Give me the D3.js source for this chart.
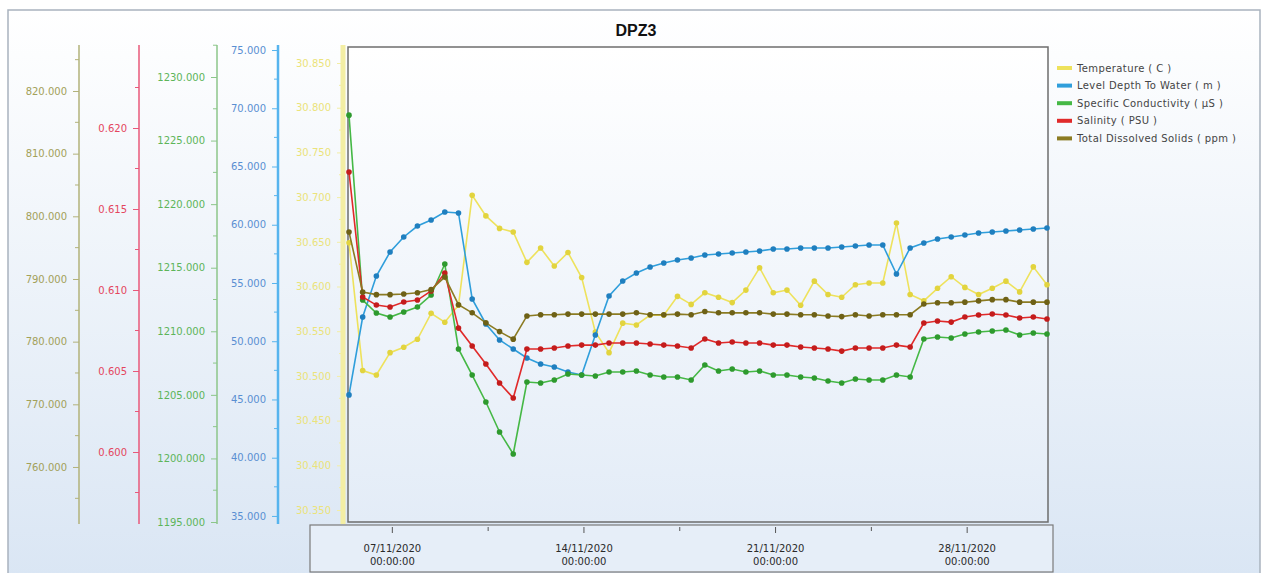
<!DOCTYPE html>
<html>
<head>
<meta charset="utf-8">
<script src="https://cdn.jsdelivr.net/npm/d3@7"></script>
<style>
  body { margin: 0; background: #fff; }
  svg { display: block; font-family: "DejaVu Sans", sans-serif; }
</style>
</head>
<body>
<svg id="chart" width="1267" height="573"></svg>
<script>
// readings every 12 hours
const times = ["2020-11-05T10:00","2020-11-05T22:00","2020-11-06T10:00","2020-11-06T22:00","2020-11-07T10:00","2020-11-07T22:00",
  "2020-11-08T10:00","2020-11-08T22:00","2020-11-09T10:00","2020-11-09T22:00","2020-11-10T10:00","2020-11-10T22:00",
  "2020-11-11T10:00","2020-11-11T22:00","2020-11-12T10:00","2020-11-12T22:00","2020-11-13T10:00","2020-11-13T22:00",
  "2020-11-14T10:00","2020-11-14T22:00","2020-11-15T10:00","2020-11-15T22:00","2020-11-16T10:00","2020-11-16T22:00",
  "2020-11-17T10:00","2020-11-17T22:00","2020-11-18T10:00","2020-11-18T22:00","2020-11-19T10:00","2020-11-19T22:00",
  "2020-11-20T10:00","2020-11-20T22:00","2020-11-21T10:00","2020-11-21T22:00","2020-11-22T10:00","2020-11-22T22:00",
  "2020-11-23T10:00","2020-11-23T22:00","2020-11-24T10:00","2020-11-24T22:00","2020-11-25T10:00","2020-11-25T22:00",
  "2020-11-26T10:00","2020-11-26T22:00","2020-11-27T10:00","2020-11-27T22:00","2020-11-28T10:00","2020-11-28T22:00",
  "2020-11-29T10:00","2020-11-29T22:00","2020-11-30T10:00","2020-11-30T22:00"];

const temperature = [30.649,30.506,30.501,30.526,30.532,30.541,30.570,30.560,30.579,30.702,30.679,30.665,30.661,30.627,30.643,30.623,
  30.638,30.610,30.549,30.526,30.559,30.557,30.568,30.568,30.589,30.580,30.593,30.588,30.582,30.596,30.621,30.593,30.596,30.579,
  30.606,30.591,30.588,30.602,30.604,30.604,30.671,30.591,30.584,30.598,30.611,30.599,30.591,30.598,30.606,30.594,30.622,30.602];

const levelDepth = [45.39,52.08,55.60,57.66,58.95,59.89,60.41,61.09,61.01,53.63,51.48,50.11,49.33,48.56,48.05,47.79,47.36,47.10,
  50.54,53.88,55.17,55.86,56.37,56.72,56.97,57.15,57.40,57.49,57.58,57.66,57.75,57.92,57.92,58.01,58.01,58.01,58.09,58.18,58.26,
  58.26,55.77,58.01,58.43,58.78,58.95,59.12,59.29,59.38,59.46,59.55,59.64,59.72];

const conductivity = [1227.0,1212.46,1211.44,1211.12,1211.52,1211.91,1212.85,1215.29,1208.61,1206.56,1204.44,1202.08,1200.35,
  1206.01,1205.93,1206.17,1206.64,1206.56,1206.48,1206.80,1206.80,1206.88,1206.56,1206.41,1206.41,1206.17,1207.35,1206.88,1207.03,
  1206.80,1206.88,1206.56,1206.56,1206.41,1206.33,1206.09,1205.93,1206.25,1206.17,1206.17,1206.56,1206.41,1209.39,1209.55,1209.47,
  1209.79,1209.94,1210.02,1210.10,1209.71,1209.86,1209.79];

const salinity = [0.61728,0.60957,0.60907,0.60895,0.60926,0.60938,0.60994,0.61105,0.60765,0.60654,0.60543,0.60426,0.60333,0.60636,
  0.60636,0.60642,0.60654,0.60660,0.60660,0.60673,0.60673,0.60673,0.60667,0.60660,0.60654,0.60642,0.60698,0.60673,0.60679,0.60673,
  0.60673,0.60660,0.60660,0.60648,0.60642,0.60636,0.60623,0.60642,0.60642,0.60642,0.60660,0.60648,0.60796,0.60809,0.60802,0.60833,
  0.60846,0.60852,0.60846,0.60827,0.60833,0.60821];

const tds = [797.5,787.9,787.5,787.5,787.6,787.8,788.3,790.3,785.9,784.6,783.0,781.6,780.4,784.1,784.3,784.3,784.4,784.4,784.4,
  784.4,784.4,784.6,784.3,784.3,784.4,784.3,784.8,784.6,784.6,784.6,784.6,784.4,784.4,784.3,784.3,784.1,784.0,784.3,784.1,784.3,
  784.3,784.3,786.0,786.2,786.2,786.3,786.5,786.7,786.7,786.3,786.3,786.3];

const seriesNames = ["Temperature ( C )", "Level Depth To Water ( m )", "Specific Conductivity ( µS )", "Salinity ( PSU )", "Total Dissolved Solids ( ppm )"];

// tick labels of the five value axes and the date axis
const tdsTicks = [760, 770, 780, 790, 800, 810, 820];
const salinityTicks = [0.600, 0.605, 0.610, 0.615, 0.620];
const conductivityTicks = [1195, 1200, 1205, 1210, 1215, 1220, 1225, 1230];
const depthTicks = [35, 40, 45, 50, 55, 60, 65, 70, 75];
const temperatureTicks = [30.35, 30.40, 30.45, 30.50, 30.55, 30.60, 30.65, 30.70, 30.75, 30.80, 30.85];
const dateTicks = ["2020-11-07", "2020-11-14", "2020-11-21", "2020-11-28"];

(function() {
    var top = 47, bottom = 522, left = 349, right = 1047;
    var svg = d3.select("#chart");
    var parse = d3.timeParse("%Y-%m-%dT%H:%M");
    var parseDay = d3.timeParse("%Y-%m-%d");
    var t = times.map(parse);

    //gradients for background and plot area
    var defs = svg.append("defs");
    var bg = defs.append("linearGradient").attr("id", "bg").attr("x1", 0).attr("y1", 0).attr("x2", 0).attr("y2", 1);
    bg.append("stop").attr("offset", "0%").attr("stop-color", "#ffffff");
    bg.append("stop").attr("offset", "100%").attr("stop-color", "#dae6f4");
    var pg = defs.append("linearGradient").attr("id", "pg").attr("x1", 0).attr("y1", 0).attr("x2", 0).attr("y2", 1);
    pg.append("stop").attr("offset", "0%").attr("stop-color", "#ffffff");
    pg.append("stop").attr("offset", "100%").attr("stop-color", "#e3ecf7");

    svg.append("rect").attr("x", 8).attr("y", 10).attr("width", 1252).attr("height", 566)
        .attr("fill", "url(#bg)").attr("stroke", "#a9b3be").attr("stroke-width", 1.5);

    svg.append("text").attr("x", 636).attr("y", 36).attr("text-anchor", "middle")
        .style("font-family", "'Liberation Sans', Arial, sans-serif").style("font-weight", "bold").style("font-size", "16px")
        .attr("fill", "#111").text("DPZ3");

    //plot area
    svg.append("rect").attr("x", 348).attr("y", top).attr("width", 700).attr("height", bottom - top)
        .attr("fill", "url(#pg)").attr("stroke", "#6d6d6d").attr("stroke-width", 1.5);

    //scales
    var x = d3.scaleTime().domain([t[0], t[t.length - 1]]).range([left, right]);
    var yTds = d3.scaleLinear().domain([751.22, 827.02]).range([bottom, top]);
    var ySal = d3.scaleLinear().domain([0.59568, 0.62500]).range([bottom, top]);
    var yCond = d3.scaleLinear().domain([1195.0, 1232.36]).range([bottom, top]);
    var yDepth = d3.scaleLinear().domain([34.48, 75.26]).range([bottom, top]);
    var yTemp = d3.scaleLinear().domain([30.3366, 30.8679]).range([bottom, top]);

    //one vertical axis: line, major + minor ticks, labels
    function valueAxis(scale, xpos, ticks, lineColor, textColor, lineWidth) {
        var g = svg.append("g").attr("transform", "translate(" + xpos + ",0)");
        g.call(d3.axisLeft(scale).tickValues(ticks).tickSize(6).tickSizeOuter(0).tickPadding(6).tickFormat(d3.format(".3f")));
        g.select(".domain").attr("stroke", lineColor).attr("stroke-width", lineWidth).attr("d", "M0," + (top - 2) + "V" + (bottom + 2));
        g.selectAll(".tick line").attr("stroke", lineColor);
        g.selectAll(".tick text").attr("fill", textColor).style("font-size", "10px").style("font-family", "'DejaVu Sans', sans-serif");
        var step = ticks[1] - ticks[0];
        var minor = ticks.map((d) => d + step / 2).concat([ticks[0] - step / 2])
            .filter((d) => scale(d) >= top - 3 && scale(d) <= bottom);
        g.selectAll(".minor").data(minor).enter().append("line")
            .attr("x1", -4).attr("x2", 0).attr("y1", (d) => scale(d)).attr("y2", (d) => scale(d))
            .attr("stroke", lineColor);
        return g;
    }

    valueAxis(yTds, 79, tdsTicks, "#b2b27a", "#a3a15a", 1.5);
    valueAxis(ySal, 139, salinityTicks, "#e8587a", "#e4465e", 1.5);
    valueAxis(yCond, 217, conductivityTicks, "#8cc68a", "#5db55a", 1.5);
    valueAxis(yDepth, 278, depthTicks, "#56b4ee", "#5a8fd2", 2.5);
    valueAxis(yTemp, 343, temperatureTicks, "#f3eea4", "#ebe37a", 5);

    //series
    var series = [
        { name: seriesNames[0], values: temperature, y: yTemp, line: "#eee25c", dot: "#e2d43e" },
        { name: seriesNames[1], values: levelDepth, y: yDepth, line: "#2f9edb", dot: "#1f7fbf" },
        { name: seriesNames[2], values: conductivity, y: yCond, line: "#45b845", dot: "#2e9a2e" },
        { name: seriesNames[3], values: salinity, y: ySal, line: "#e02a2a", dot: "#c41c1c" },
        { name: seriesNames[4], values: tds, y: yTds, line: "#8b7b22", dot: "#6e6116" }
    ];

    series.forEach((s) => {
        var pts = s.values.map((v, i) => ({ t: t[i], v: v }));
        var line = d3.line().x((d) => x(d.t)).y((d) => s.y(d.v));
        var g = svg.append("g");
        g.append("path").datum(pts).attr("d", line).attr("fill", "none")
            .attr("stroke", s.line).attr("stroke-width", 1.6);
        g.selectAll("circle").data(pts).enter().append("circle")
            .attr("cx", (d) => x(d.t)).attr("cy", (d) => s.y(d.v)).attr("r", 2.8)
            .attr("fill", s.dot);
    });

    //date axis in its own box
    svg.append("rect").attr("x", 310).attr("y", 525).attr("width", 743).attr("height", 47)
        .attr("fill", "#e6eef8").attr("stroke", "#7a7a7a").attr("stroke-width", 1.2);
    var dates = dateTicks.map(parseDay);
    var minorDates = dates.map((d) => d3.timeHour.offset(d, 84)).filter((d) => x(d) < right);
    var xa = svg.append("g").attr("transform", "translate(0,527)");
    xa.selectAll(".maj").data(dates).enter().append("line")
        .attr("x1", (d) => x(d)).attr("x2", (d) => x(d)).attr("y1", 0).attr("y2", 6).attr("stroke", "#555");
    xa.selectAll(".min").data(minorDates).enter().append("line")
        .attr("x1", (d) => x(d)).attr("x2", (d) => x(d)).attr("y1", 0).attr("y2", 4).attr("stroke", "#555");
    var fmtD = d3.timeFormat("%d/%m/%Y"), fmtT = d3.timeFormat("%H:%M:%S");
    var lbl = xa.selectAll(".lbl").data(dates).enter().append("text")
        .attr("text-anchor", "middle").attr("fill", "#2a2a2a").style("font-size", "10px");
    lbl.append("tspan").attr("x", (d) => x(d)).attr("y", 25).text((d) => fmtD(d));
    lbl.append("tspan").attr("x", (d) => x(d)).attr("y", 38).text((d) => fmtT(d));

    //legend
    var legend = svg.append("g").attr("transform", "translate(1057,68)");
    var item = legend.selectAll("g").data(series).enter().append("g")
        .attr("transform", (d, i) => "translate(0," + (i * 17.6) + ")");
    item.append("rect").attr("x", 0).attr("y", -2).attr("width", 15).attr("height", 4).attr("fill", (d) => d.line);
    item.append("text").attr("x", 20).attr("y", 3.5).attr("fill", "#444").style("font-size", "10px")
        .style("letter-spacing", "0.4px").text((d) => d.name);
})();
</script>
</body>
</html>
